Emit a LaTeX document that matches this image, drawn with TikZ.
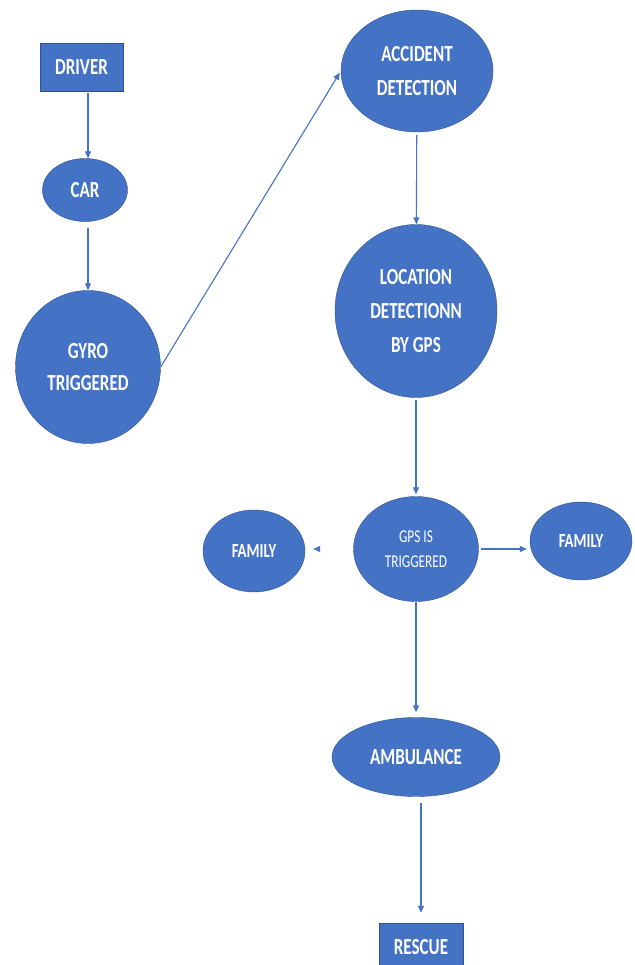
\documentclass[tikz,border=0pt]{standalone}
\usepackage{fontspec}
\setmainfont{Carlito}[FakeStretch=0.74]
\usetikzlibrary{shapes.geometric,arrows.meta}
\definecolor{officeblue}{HTML}{4472C4}
\definecolor{darkblue}{HTML}{2F528F}
\begin{document}
\begin{tikzpicture}[x=1pt, y=1pt, >={Triangle[length=7pt,width=6pt]},
    every node/.style={fill=officeblue, draw=darkblue, thin, text=white, align=center, inner sep=0pt, font=\bfseries\fontsize{23}{34}\selectfont},
    box/.style={rectangle},
    oval/.style={ellipse},
    link/.style={officeblue, line width=1.1pt}]
    \useasboundingbox (0,0) rectangle (634,965);
    % Nodes
    \node[box, minimum width=83, minimum height=48] (driver) at (81.5, 898) {DRIVER};
    \node[oval, minimum width=85, minimum height=63] (car) at (85, 775) {CAR};
    \node[oval, minimum width=145, minimum height=153, font=\bfseries\fontsize{23}{32}\selectfont] (gyro) at (88, 598) {GYRO\\TRIGGERED};
    \node[oval, minimum width=152, minimum height=122] (acc) at (417, 894) {ACCIDENT\\DETECTION};
    \node[oval, minimum width=162, minimum height=173] (loc) at (416, 654) {LOCATION\\DETECTIONN\\BY GPS};
    \node[oval, minimum width=125, minimum height=105, font=\fontsize{18}{25}\selectfont] (gps) at (416, 416) {GPS IS\\TRIGGERED};
    \node[oval, minimum width=102, minimum height=82, font=\bfseries\fontsize{20}{30}\selectfont] (famL) at (254, 414) {FAMILY};
    \node[oval, minimum width=102, minimum height=78, font=\bfseries\fontsize{20}{30}\selectfont] (famR) at (581, 424) {FAMILY};
    \node[oval, minimum width=168, minimum height=79] (amb) at (416, 208) {AMBULANCE};
    \node[box, minimum width=84, minimum height=48] (rescue) at (421, 18) {RESCUE};

    % Edges
    \draw[link, ->, shorten <=2pt] (driver.south -| gyro) -- (gyro |- car.north);
    \draw[link, ->, shorten <=6pt] (car.south -| gyro) -- (gyro);
    \draw[link, ->, shorten >=2pt] (gyro.east) -- (acc.west);
    \draw[link, ->, shorten <=3pt] (acc) -- (loc);
    \draw[link, ->, shorten <=2pt, shorten >=2pt] (loc) -- (gps);
    \draw[link, ->, shorten <=2pt, shorten >=3pt] (gps.east) -- (gps.east -| famR.west);
    \draw[link, ->, shorten <=36pt, shorten >=8pt] (gps.west) -- (gps.west -| famL.east);
    \draw[link, ->, shorten >=5pt] (gps) -- (amb);
    \draw[link, ->, shorten <=6pt, shorten >=10pt] (amb.south -| rescue) -- (rescue.north);
\end{tikzpicture}
\end{document}
